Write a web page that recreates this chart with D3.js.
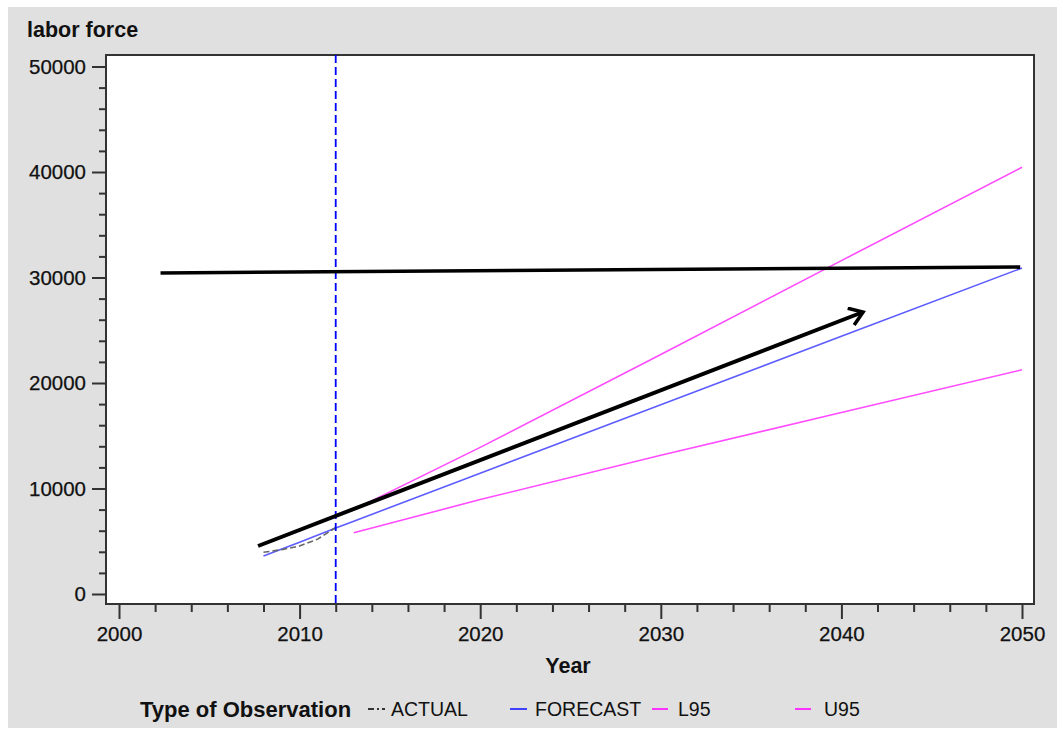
<!DOCTYPE html>
<html>
<head>
<meta charset="utf-8">
<script src="https://cdn.jsdelivr.net/npm/d3@7"></script>
<style>
  body { margin: 0; background: #ffffff; }
  svg { display: block; font-family: "Liberation Sans", Arial, sans-serif; }
</style>
</head>
<body>
<div id="chart"></div>
<script>
// Données
const actualYears = [2008, 2009, 2010, 2011, 2012]
const actualValues = [3950, 4200, 4550, 5200, 6300]

const forecastYears = [2008, 2010, 2012, 2013, 2020, 2030, 2040, 2050]
const forecastValues = [3600, 4900, 6250, 6900, 11450, 17930, 24420, 30900]

const bandYears = [2013, 2020, 2030, 2040, 2050]
const l95Values = [5800, 8950, 13150, 17200, 21250]
const u95Values = [8000, 13900, 22700, 31600, 40450]

// annotations dessinées à la main (ligne horizontale + flèche)
const levelYears = [2002.3, 2049.9]
const levelValues = [30430, 30995]
const arrowYears = [2007.7, 2041.2]
const arrowValues = [4550, 26730]

const forecastStart = 2012

const xMajor = [2000, 2010, 2020, 2030, 2040, 2050]
const yMajor = [0, 10000, 20000, 30000, 40000, 50000]

const legendLabels = ['ACTUAL', 'FORECAST', 'L95', 'U95']

// Constantes
const W = 1057, H = 734
const frame = { left: 106, top: 55, right: 1034, bottom: 604 }

const svg = d3.select('#chart')
    .append('svg')
    .attr('width', W)
    .attr('height', H)

svg.append('rect')
    .attr('x', 8).attr('y', 7)
    .attr('width', W - 8).attr('height', 721)
    .attr('fill', '#e0e0e0')

svg.append('rect')
    .attr('x', frame.left).attr('y', frame.top)
    .attr('width', frame.right - frame.left)
    .attr('height', frame.bottom - frame.top)
    .attr('fill', '#ffffff')

// Echelles
const x = d3.scaleLinear().domain([2000, 2050]).range([119, 1022])
const y = d3.scaleLinear().domain([0, 50000]).range([594, 66.5])

const xMinor = d3.range(2000, 2051, 2).filter(v => v % 10 != 0)
const yMinor = d3.range(0, 50001, 2000).filter(v => v % 10000 != 0)

// Axe X
const xAxisG = svg.append('g').attr('transform', 'translate(0,' + frame.bottom + ')')
xAxisG.call(d3.axisBottom(x).tickValues(xMajor).tickSize(15).tickPadding(7).tickFormat(d3.format('d')))
xAxisG.append('g').call(d3.axisBottom(x).tickValues(xMinor).tickSize(8).tickFormat(''))

// Axe Y
const yAxisG = svg.append('g').attr('transform', 'translate(' + frame.left + ',0)')
yAxisG.call(d3.axisLeft(y).tickValues(yMajor).tickSize(14).tickPadding(6).tickFormat(d3.format('d')))
yAxisG.append('g').call(d3.axisLeft(y).tickValues(yMinor).tickSize(7).tickFormat(''))

svg.selectAll('.domain').remove()
svg.selectAll('.tick line').attr('stroke', '#333').attr('stroke-width', 2)
svg.selectAll('.tick text')
    .attr('fill', '#111')
    .attr('stroke', '#111').attr('stroke-width', 0.25)
    .style('font-size', '20.5px')
    .style('font-family', '"Liberation Sans", Arial, sans-serif')

// Cadre
svg.append('rect')
    .attr('x', frame.left).attr('y', frame.top)
    .attr('width', frame.right - frame.left)
    .attr('height', frame.bottom - frame.top)
    .attr('fill', 'none')
    .attr('stroke', '#333')
    .attr('stroke-width', 2)

// Titres
svg.append('text')
    .attr('x', 27).attr('y', 37)
    .style('font-size', '21.5px').style('font-weight', 'bold')
    .attr('fill', '#111')
    .text('labor force')

svg.append('text')
    .attr('x', 568).attr('y', 673)
    .attr('text-anchor', 'middle')
    .style('font-size', '21.5px').style('font-weight', 'bold')
    .attr('fill', '#111')
    .text('Year')

// Séries
const plot = svg.append('g')

const line = d3.line()
    .x(d => x(d[0]))
    .y(d => y(d[1]))

plot.append('path')
    .datum(bandYears.map((yr, i) => [yr, l95Values[i]]))
    .attr('d', line)
    .attr('fill', 'none').attr('stroke', '#ff4cff').attr('stroke-width', 1.6)

plot.append('path')
    .datum(bandYears.map((yr, i) => [yr, u95Values[i]]))
    .attr('d', line)
    .attr('fill', 'none').attr('stroke', '#ff4cff').attr('stroke-width', 1.6)

plot.append('path')
    .datum(forecastYears.map((yr, i) => [yr, forecastValues[i]]))
    .attr('d', line)
    .attr('fill', 'none').attr('stroke', '#5c5cff').attr('stroke-width', 1.6)

plot.append('path')
    .datum(actualYears.map((yr, i) => [yr, actualValues[i]]))
    .attr('d', line)
    .attr('fill', 'none').attr('stroke', '#666').attr('stroke-width', 1.6)
    .attr('stroke-dasharray', '6,3')

// ligne verticale début de prévision
plot.append('line')
    .attr('x1', x(forecastStart)).attr('x2', x(forecastStart))
    .attr('y1', frame.top).attr('y2', frame.bottom)
    .attr('stroke', '#0000ff').attr('stroke-width', 1.8)
    .attr('stroke-dasharray', '8,4')

// annotations
plot.append('path')
    .datum(levelYears.map((yr, i) => [yr, levelValues[i]]))
    .attr('d', line)
    .attr('fill', 'none').attr('stroke', '#000').attr('stroke-width', 3.5)

svg.append('defs').append('marker')
    .attr('id', 'head')
    .attr('markerUnits', 'userSpaceOnUse')
    .attr('viewBox', '-16 -10 20 20')
    .attr('refX', 0).attr('refY', 0)
    .attr('markerWidth', 20).attr('markerHeight', 20)
    .attr('orient', 'auto')
    .append('path')
    .attr('d', 'M-13,-9 L0,0 L-13,9')
    .attr('fill', 'none').attr('stroke', '#000').attr('stroke-width', 3.5)
    .attr('stroke-linejoin', 'miter')

plot.append('path')
    .datum(arrowYears.map((yr, i) => [yr, arrowValues[i]]))
    .attr('d', line)
    .attr('fill', 'none').attr('stroke', '#000').attr('stroke-width', 4)
    .attr('marker-end', 'url(#head)')

// Légende
const legend = svg.append('g').attr('transform', 'translate(0,709)')

legend.append('text')
    .attr('x', 140).attr('y', 7.5)
    .style('font-size', '22px').style('font-weight', 'bold')
    .attr('fill', '#111')
    .text('Type of Observation')

const legendItems = [
    { x0: 368, x1: 385, tx: 391, color: '#333', dash: '6,3,2,3' },
    { x0: 510, x1: 527, tx: 535, color: '#4040ff', dash: null },
    { x0: 652, x1: 668, tx: 678, color: '#ff33ff', dash: null },
    { x0: 795, x1: 811, tx: 824, color: '#ff33ff', dash: null }
]

legendItems.forEach((it, i) => {
    legend.append('line')
        .attr('x1', it.x0).attr('x2', it.x1)
        .attr('y1', 0).attr('y2', 0)
        .attr('stroke', it.color).attr('stroke-width', 2)
        .attr('stroke-dasharray', it.dash)
    legend.append('text')
        .attr('x', it.tx).attr('y', 7)
        .style('font-size', '19.5px')
        .attr('fill', '#111')
        .text(legendLabels[i])
})
</script>
</body>
</html>
